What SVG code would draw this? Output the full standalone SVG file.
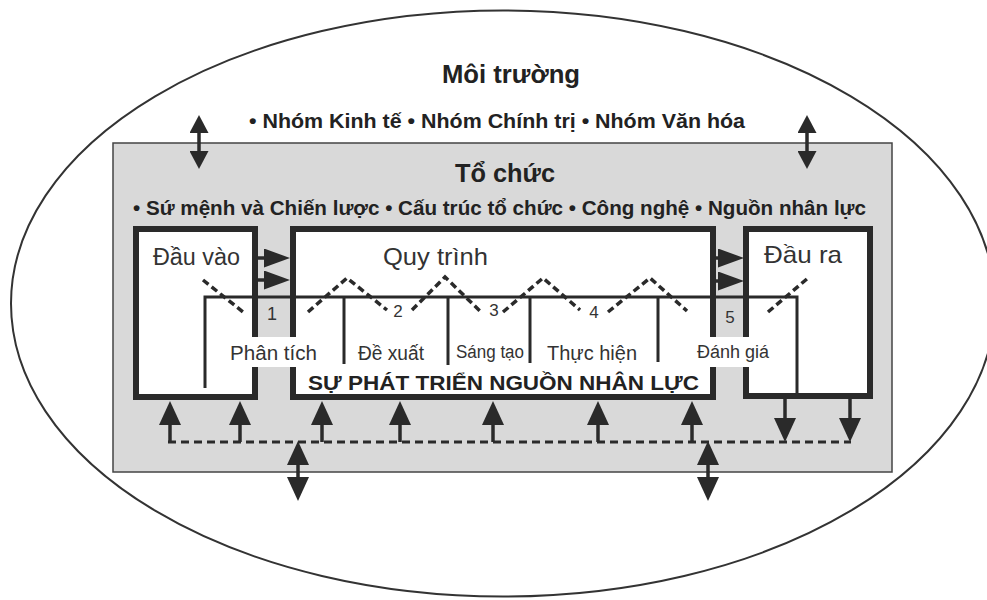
<svg xmlns="http://www.w3.org/2000/svg" width="987" height="600" viewBox="0 0 987 600">
<style>
.b{font-family:"Liberation Sans",Arial,sans-serif;font-weight:bold;fill:#222}
.r{font-family:"Liberation Sans",Arial,sans-serif;fill:#333}
.box{fill:#fff;stroke:#2a2a2a;stroke-width:6}
.thin{fill:none;stroke:#2a2a2a;stroke-width:3}
.zig{fill:none;stroke:#2a2a2a;stroke-width:3.5;stroke-dasharray:7 4}
.dash{fill:none;stroke:#2a2a2a;stroke-width:3;stroke-dasharray:8 5}
.sh{stroke:#2a2a2a;stroke-width:3.5;fill:none}
</style>
<defs>
<marker id="hv" markerUnits="userSpaceOnUse" markerWidth="24" markerHeight="22" refX="0" refY="11" orient="auto-start-reverse" viewBox="0 0 24 22"><path d="M0,0 L24,11 L0,22 z" fill="#2a2a2a"/></marker>
<marker id="hs" markerUnits="userSpaceOnUse" markerWidth="18" markerHeight="19" refX="0" refY="9.5" orient="auto-start-reverse" viewBox="0 0 18 19"><path d="M0,0 L18,9.5 L0,19 z" fill="#2a2a2a"/></marker>
<marker id="hh" markerUnits="userSpaceOnUse" markerWidth="26" markerHeight="19" refX="0" refY="9.5" orient="auto" viewBox="0 0 26 19"><path d="M0,0 L26,9.5 L0,19 z" fill="#2a2a2a"/></marker>
</defs>
<rect x="0" y="0" width="987" height="600" fill="#fff"/>
<g id="environment">
<ellipse cx="503" cy="303.5" rx="492" ry="293" fill="#fff" stroke="#333" stroke-width="2"/>
<text class="b" x="442" y="83" font-size="25" textLength="138" lengthAdjust="spacingAndGlyphs">Môi trường</text>
<text class="b" x="249" y="128" font-size="20" textLength="496" lengthAdjust="spacingAndGlyphs">• Nhóm Kinh tế • Nhóm Chính trị • Nhóm Văn hóa</text>
</g>
<g id="organization">
<rect x="113" y="143" width="779" height="329" fill="#d9d9d9" stroke="#444" stroke-width="1.5"/>
<text class="b" x="455" y="182" font-size="26" textLength="100" lengthAdjust="spacingAndGlyphs">Tổ chức</text>
<text class="b" x="133" y="215" font-size="21" textLength="733" lengthAdjust="spacingAndGlyphs">• Sứ mệnh và Chiến lược • Cấu trúc tổ chức • Công nghệ • Nguồn nhân lực</text>
</g>
<g id="input">
<rect class="box" x="136" y="229" width="119" height="168"/>
<text class="r" x="153" y="265" font-size="23" textLength="87" lengthAdjust="spacingAndGlyphs">Đầu vào</text>
</g>
<g id="process">
<rect class="box" x="293" y="229" width="420" height="168"/>
<text class="r" x="383" y="265" font-size="24" textLength="105" lengthAdjust="spacingAndGlyphs">Quy trình</text>
</g>
<g id="output">
<rect class="box" x="746" y="229" width="124" height="167"/>
<text class="r" x="764" y="263" font-size="24" textLength="78" lengthAdjust="spacingAndGlyphs">Đầu ra</text>
</g>
<g id="stages">
<path class="thin" d="M205,388 V297 H797 V396"/>
<path class="thin" d="M344,297 V364 M448,297 V365 M530,297 V363 M658,297 V362"/>
<polyline class="zig" points="203,280 243,312"/>
<polyline class="zig" points="308,312 347,278 387,310"/>
<polyline class="zig" points="412,310 445,277 480,311"/>
<polyline class="zig" points="503,312 543,278 580,310"/>
<polyline class="zig" points="608,312 650,278 687,311"/>
<polyline class="zig" points="768,312 808,278"/>
<rect x="250" y="337" width="49" height="30" fill="#fff"/>
<rect x="708" y="337" width="43" height="30" fill="#fff"/>
<text class="r" x="272" y="320" font-size="18" text-anchor="middle">1</text>
<text class="r" x="398" y="317" font-size="17" text-anchor="middle">2</text>
<text class="r" x="494" y="316" font-size="17" text-anchor="middle">3</text>
<text class="r" x="594" y="318" font-size="17" text-anchor="middle">4</text>
<text class="r" x="730" y="323" font-size="17" text-anchor="middle">5</text>
<text class="r" x="230" y="360" font-size="20" textLength="87" lengthAdjust="spacingAndGlyphs">Phân tích</text>
<text class="r" x="358" y="360" font-size="20" textLength="66" lengthAdjust="spacingAndGlyphs">Đề xuất</text>
<text class="r" x="456" y="358" font-size="18" textLength="68" lengthAdjust="spacingAndGlyphs">Sáng tạo</text>
<text class="r" x="547" y="360" font-size="20" textLength="90" lengthAdjust="spacingAndGlyphs">Thực hiện</text>
<text class="r" x="697" y="358" font-size="18" textLength="72" lengthAdjust="spacingAndGlyphs">Đánh giá</text>
<text class="b" x="308" y="390" font-size="20" textLength="391" lengthAdjust="spacingAndGlyphs">SỰ PHÁT TRIỂN NGUỒN NHÂN LỰC</text>
</g>
<g id="connectors">
<line class="sh" x1="199" y1="133" x2="199" y2="151" marker-start="url(#hs)" marker-end="url(#hs)"/>
<line class="sh" x1="807" y1="133" x2="807" y2="151" marker-start="url(#hs)" marker-end="url(#hs)"/>
<line class="sh" stroke-width="2.5" x1="258" y1="258" x2="264" y2="258" marker-end="url(#hh)"/>
<line class="sh" stroke-width="2.5" x1="258" y1="280" x2="264" y2="280" marker-end="url(#hh)"/>
<line class="sh" stroke-width="2.5" x1="715" y1="258" x2="718" y2="258" marker-end="url(#hh)"/>
<line class="sh" stroke-width="2.5" x1="715" y1="281" x2="718" y2="281" marker-end="url(#hh)"/>
<line class="dash" x1="168" y1="442" x2="851" y2="442"/>
<line class="sh" x1="170" y1="443" x2="170" y2="425" marker-end="url(#hv)"/>
<line class="sh" x1="240" y1="442" x2="240" y2="425" marker-end="url(#hv)"/>
<line class="sh" x1="322" y1="442" x2="322" y2="425" marker-end="url(#hv)"/>
<line class="sh" x1="400" y1="442" x2="400" y2="425" marker-end="url(#hv)"/>
<line class="sh" x1="493" y1="442" x2="493" y2="425" marker-end="url(#hv)"/>
<line class="sh" x1="598" y1="442" x2="598" y2="425" marker-end="url(#hv)"/>
<line class="sh" x1="692" y1="442" x2="692" y2="425" marker-end="url(#hv)"/>
<line class="sh" x1="785" y1="399" x2="785" y2="418" marker-end="url(#hv)"/>
<line class="sh" x1="850" y1="399" x2="850" y2="418" marker-end="url(#hv)"/>
<line class="sh" x1="298" y1="465" x2="298" y2="477" marker-start="url(#hv)" marker-end="url(#hv)"/>
<line class="sh" x1="708" y1="465" x2="708" y2="477" marker-start="url(#hv)" marker-end="url(#hv)"/>
</g>
</svg>
